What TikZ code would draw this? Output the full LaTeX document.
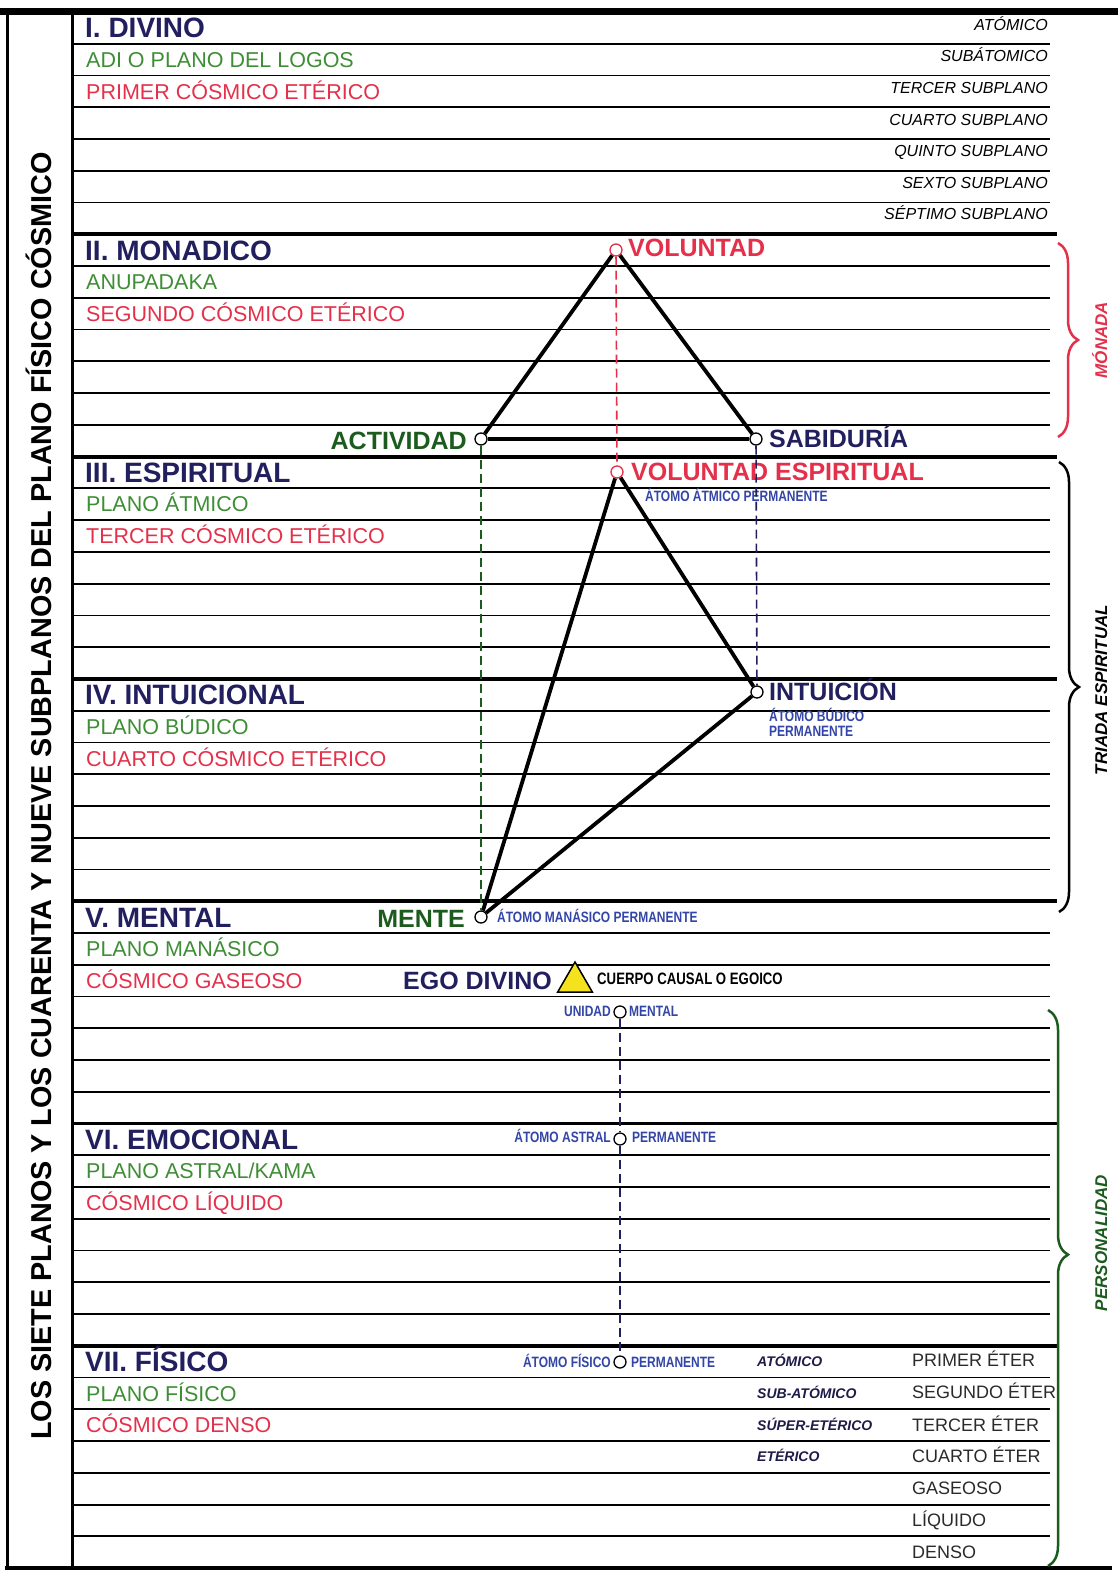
\documentclass[tikz,border=0pt]{standalone}
\usepackage{fontspec}
\setmainfont{Liberation Sans}
\newfontfamily\estrecha[FakeStretch=0.8]{Liberation Sans}
\usepackage{xcolor}
\usetikzlibrary{shapes.geometric,decorations.pathreplacing}
\definecolor{navy}{HTML}{221F5F}
\definecolor{verde}{HTML}{3E8E35}
\definecolor{verdeosc}{HTML}{1C5B1E}
\definecolor{rojo}{HTML}{E4304A}
\definecolor{azul}{HTML}{3346A8}
\definecolor{tinta}{HTML}{1E1B48}
\definecolor{gris}{HTML}{2A2A2A}
\definecolor{amarillo}{HTML}{F5E21E}

% one plane: number, name, second and third row
\newcommand{\plano}[4] {
    \draw[planoline] (73, 12+#1*222.3) -- (1057, 12+#1*222.3);
    \foreach \j in {1,...,6}
        \draw[subline] (73, 12+#1*222.3+\j*31.76) -- (1050, 12+#1*222.3+\j*31.76);
    \node[nombre] (n#1) at (85, 12+#1*222.3+15.9) {#2};
    \node[fila, verde] (v#1) at (86, 12+#1*222.3+47.6) {#3};
    \node[fila, rojo] (r#1) at (86, 12+#1*222.3+79.4) {#4};
}
\newcommand{\atomo}[4] {
    \node[punto, draw=#4] (#1) at (#2, #3) {};
}

\begin{document}
\begin{tikzpicture}[x=1pt, y=-1pt,
    subline/.style={line width=1.8pt},
    planoline/.style={line width=3.8pt},
    base/.style={inner sep=0pt, text depth=0pt},
    nombre/.style={base, anchor=west, text=navy, text height=20pt, font=\fontsize{28}{30}\selectfont\bfseries},
    fila/.style={base, anchor=west, text height=15.5pt, font=\fontsize{21.5}{24}\selectfont},
    derecha/.style={base, anchor=east, text height=11.5pt, font=\fontsize{16}{18}\selectfont\itshape},
    tri/.style={base, text height=18pt, font=\fontsize{25}{27}\selectfont\bfseries},
    chico/.style={base, text=azul, text height=10.8pt, font=\fontsize{15}{17}\selectfont\estrecha\bfseries},
    fisi/.style={base, anchor=west, text=tinta, text height=10pt, font=\fontsize{14}{16}\selectfont\bfseries\itshape},
    eter/.style={base, anchor=west, text=gris, text height=13pt, font=\fontsize{18}{20}\selectfont},
    lateral/.style={base, rotate=90, text height=12.2pt, font=\fontsize{17}{19}\selectfont\bfseries\itshape},
    punto/.style={circle, fill=white, minimum size=12pt, inner sep=0pt, line width=1.3pt},
    lado/.style={line width=3.8pt},
    guion/.style={line width=1.6pt, dash pattern=on 9pt off 5pt},
    llave/.style={decorate, decoration={brace, amplitude=20pt}, line width=2.5pt}]
    \useasboundingbox (0,0) rectangle (1118,1576);
    \fill[white] (0,0) rectangle (1118,1576);

    \plano{0}{I. DIVINO}{ADI O PLANO DEL LOGOS}{PRIMER CÓSMICO ETÉRICO}
    \plano{1}{II. MONADICO}{ANUPADAKA}{SEGUNDO CÓSMICO ETÉRICO}
    \plano{2}{III. ESPIRITUAL}{PLANO ÁTMICO}{TERCER CÓSMICO ETÉRICO}
    \plano{3}{IV. INTUICIONAL}{PLANO BÚDICO}{CUARTO CÓSMICO ETÉRICO}
    \plano{4}{V. MENTAL}{PLANO MANÁSICO}{CÓSMICO GASEOSO}
    \plano{5}{VI. EMOCIONAL}{PLANO ASTRAL/KAMA}{CÓSMICO LÍQUIDO}
    \plano{6}{VII. FÍSICO}{PLANO FÍSICO}{CÓSMICO DENSO}

    % frame
    \draw[line width=7pt] (0,12) -- (1118,12);
    \draw[line width=4.5pt] (5,1568) -- (1112,1568);
    \draw[line width=3pt] (7,12) -- (7,1568);
    \draw[line width=3pt] (72,12) -- (72,1568);
    \node[base, rotate=90, text height=20pt, font=\fontsize{28.8}{30}\selectfont\bfseries] (titulo) at (41, 796)
        {LOS SIETE PLANOS Y LOS CUARENTA Y NUEVE SUBPLANOS DEL PLANO FÍSICO CÓSMICO};

    % subplanes
    \node[derecha] (s1) at (1048, 25) {ATÓMICO};
    \node[derecha] (s2) at (1048, 56) {SUBÁTOMICO};
    \node[derecha] (s3) at (1048, 88) {TERCER SUBPLANO};
    \node[derecha] (s4) at (1048, 120) {CUARTO SUBPLANO};
    \node[derecha] (s5) at (1048, 151) {QUINTO SUBPLANO};
    \node[derecha] (s6) at (1048, 183) {SEXTO SUBPLANO};
    \node[derecha] (s7) at (1048, 214) {SÉPTIMO SUBPLANO};

    % atoms
    \atomo{vol}{616}{250}{rojo}
    \atomo{act}{481}{439}{black}
    \atomo{sab}{756}{439}{black}
    \atomo{volesp}{617}{472}{rojo}
    \atomo{intu}{757}{692}{black}
    \atomo{mente}{481}{917}{black}
    \atomo{unidad}{620}{1012}{black}
    \atomo{astral}{620}{1139}{black}
    \atomo{fisico}{620}{1362}{black}
    \node[regular polygon, regular polygon sides=3, draw, line width=1.5pt, fill=amarillo,
        minimum size=40pt, inner sep=0pt] (ego) at (575, 982) {};

    \node[tri, anchor=west, rojo] (tvol) at (628, 247) {VOLUNTAD};
    \node[tri, anchor=east, verdeosc] (tact) at (467, 440) {ACTIVIDAD};
    \node[tri, anchor=west, navy] (tsab) at (769, 438) {SABIDURÍA};
    \node[tri, anchor=west, rojo] (tvolesp) at (631, 471) {VOLUNTAD ESPIRITUAL};
    \node[chico, anchor=west] (aat) at (645, 496) {ÁTOMO ÁTMICO PERMANENTE};
    \node[tri, anchor=west, navy] (tintu) at (769, 691) {INTUICIÓN};
    \node[chico, anchor=west] (abu1) at (769, 716) {ÁTOMO BÚDICO};
    \node[chico, anchor=west] (abu2) at (769, 731) {PERMANENTE};
    \node[tri, anchor=east, verdeosc] (tmente) at (465, 918) {MENTE};
    \node[chico, anchor=west] (aman) at (497, 917) {ÁTOMO MANÁSICO PERMANENTE};
    \node[tri, anchor=east, navy] (tego) at (552, 980) {EGO DIVINO};
    \node[base, anchor=west, text height=11.8pt, font=\fontsize{16.5}{18}\selectfont\estrecha\bfseries] (causal) at (597, 979)
        {CUERPO CAUSAL O EGOICO};
    \node[chico, anchor=east] (uni1) at (611, 1011) {UNIDAD};
    \node[chico, anchor=west] (uni2) at (629, 1011) {MENTAL};
    \node[chico, anchor=east] (ast1) at (611, 1137) {ÁTOMO ASTRAL};
    \node[chico, anchor=west] (ast2) at (632, 1137) {PERMANENTE};
    \node[chico, anchor=east] (fis1) at (611, 1362) {ÁTOMO FÍSICO};
    \node[chico, anchor=west] (fis2) at (631, 1362) {PERMANENTE};

    % connectors
    \draw[lado] (vol) -- (act);
    \draw[lado] (vol) -- (sab);
    \draw[lado] (act) -- (sab);
    \draw[lado] (volesp) -- (mente);
    \draw[lado] (volesp) -- (intu);
    \draw[lado] (intu) -- (mente);
    \draw[guion, rojo] (vol) -- (volesp);
    \draw[guion, verdeosc] (act) -- (mente);
    \draw[guion, navy] (sab) -- (intu);
    \draw[guion, navy] (unidad) -- (astral);
    \draw[guion, navy] (astral) -- (fisico);

    % physical plane
    \node[fisi] (f1) at (757, 1361) {ATÓMICO};
    \node[fisi] (f2) at (757, 1393) {SUB-ATÓMICO};
    \node[fisi] (f3) at (757, 1425) {SÚPER-ETÉRICO};
    \node[fisi] (f4) at (757, 1456) {ETÉRICO};
    \node[eter] (e1) at (912, 1360) {PRIMER ÉTER};
    \node[eter] (e2) at (912, 1392) {SEGUNDO ÉTER};
    \node[eter] (e3) at (912, 1425) {TERCER ÉTER};
    \node[eter] (e4) at (912, 1456) {CUARTO ÉTER};
    \node[eter] (e5) at (912, 1488) {GASEOSO};
    \node[eter] (e6) at (912, 1520) {LÍQUIDO};
    \node[eter] (e7) at (912, 1552) {DENSO};

    % braces
    \draw[llave, rojo] (1058,243) -- (1058,437);
    \draw[llave, black] (1059,462) -- (1059,912);
    \draw[llave, verdeosc, decoration={aspect=0.44}] (1048,1010) -- (1048,1566);
    \node[lateral, rojo] (monada) at (1101, 340) {MÓNADA};
    \node[lateral, black] (triada) at (1101, 690) {TRIADA ESPIRITUAL};
    \node[lateral, verdeosc] (perso) at (1101, 1243) {PERSONALIDAD};
\end{tikzpicture}
\end{document}
